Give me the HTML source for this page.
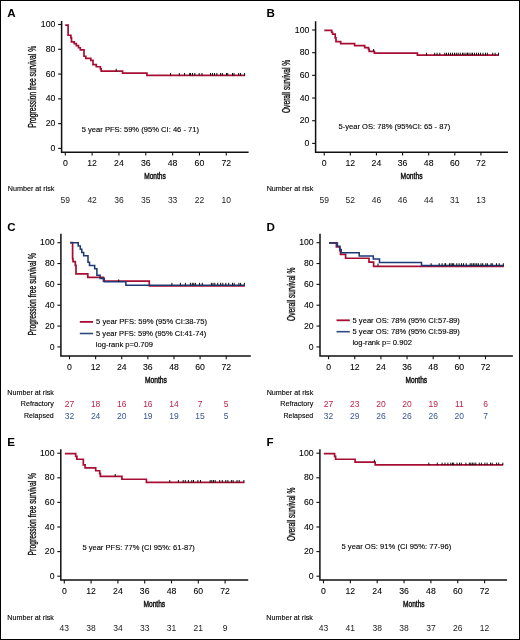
<!DOCTYPE html>
<html><head><meta charset="utf-8"><style>
html,body{margin:0;padding:0;background:#fff;}
body{width:520px;height:640px;overflow:hidden;}
svg{display:block;will-change:transform;}
text{font-family:"Liberation Sans",sans-serif;}
.lab{font-size:11.6px;font-weight:bold;fill:#000;}
.tl{font-size:8.7px;fill:#000;stroke:#000;stroke-width:0.08px;}
.tx{font-size:7.6px;fill:#000;stroke:#000;stroke-width:0.12px;}
.tt{font-size:10px;fill:#111;stroke:#111;stroke-width:0.35px;}
.mo{font-size:9.6px;stroke-width:0.5px;}
.ax{stroke:#111;stroke-width:1.5;fill:none;}
.tk{stroke:#111;stroke-width:1.1;fill:none;}
</style></head><body>
<svg width="520" height="640" viewBox="0 0 520 640">
<rect x="0.5" y="0.5" width="519" height="639" fill="#fff" stroke="#000" stroke-width="1"/>
<text x="7.2" y="17" class="lab">A</text>
<path d="M61.6 21.1V152.3H248.6" class="ax"/>
<path d="M58.1 24.5H61.6" class="tk"/>
<text x="55.3" y="27.1" class="tl" text-anchor="end">100</text>
<path d="M58.1 49.28H61.6" class="tk"/>
<text x="55.3" y="51.88" class="tl" text-anchor="end">80</text>
<path d="M58.1 74.06H61.6" class="tk"/>
<text x="55.3" y="76.66" class="tl" text-anchor="end">60</text>
<path d="M58.1 98.84H61.6" class="tk"/>
<text x="55.3" y="101.44" class="tl" text-anchor="end">40</text>
<path d="M58.1 123.62H61.6" class="tk"/>
<text x="55.3" y="126.22" class="tl" text-anchor="end">20</text>
<path d="M58.1 148.4H61.6" class="tk"/>
<text x="55.3" y="151" class="tl" text-anchor="end">0</text>
<path d="M65.3 152.3V155.6" class="tk"/>
<text x="65.3" y="166" class="tl" text-anchor="middle">0</text>
<path d="M92.13 152.3V155.6" class="tk"/>
<text x="92.13" y="166" class="tl" text-anchor="middle">12</text>
<path d="M118.96 152.3V155.6" class="tk"/>
<text x="118.96" y="166" class="tl" text-anchor="middle">24</text>
<path d="M145.79 152.3V155.6" class="tk"/>
<text x="145.79" y="166" class="tl" text-anchor="middle">36</text>
<path d="M172.62 152.3V155.6" class="tk"/>
<text x="172.62" y="166" class="tl" text-anchor="middle">48</text>
<path d="M199.45 152.3V155.6" class="tk"/>
<text x="199.45" y="166" class="tl" text-anchor="middle">60</text>
<path d="M226.28 152.3V155.6" class="tk"/>
<text x="226.28" y="166" class="tl" text-anchor="middle">72</text>
<text transform="translate(35.6 127.7) rotate(-90)" x="0" y="0" class="tt" textLength="81.9" lengthAdjust="spacingAndGlyphs">Progression free survival %</text>
<text x="144.2" y="179" class="tt mo" textLength="21.5" lengthAdjust="spacingAndGlyphs">Months</text>
<text x="7.8" y="191.07" class="tx" textLength="46.6" lengthAdjust="spacingAndGlyphs">Number at risk</text>
<text x="65.3" y="203" class="tl" text-anchor="middle" style="fill:#222;stroke:none;font-size:8.5px">59</text>
<text x="92.13" y="203" class="tl" text-anchor="middle" style="fill:#222;stroke:none;font-size:8.5px">42</text>
<text x="118.96" y="203" class="tl" text-anchor="middle" style="fill:#222;stroke:none;font-size:8.5px">36</text>
<text x="145.79" y="203" class="tl" text-anchor="middle" style="fill:#222;stroke:none;font-size:8.5px">35</text>
<text x="172.62" y="203" class="tl" text-anchor="middle" style="fill:#222;stroke:none;font-size:8.5px">33</text>
<text x="199.45" y="203" class="tl" text-anchor="middle" style="fill:#222;stroke:none;font-size:8.5px">22</text>
<text x="226.28" y="203" class="tl" text-anchor="middle" style="fill:#222;stroke:none;font-size:8.5px">10</text>
<text x="266.4" y="17" class="lab">B</text>
<path d="M315.6 21.2V152.25H507.9" class="ax"/>
<path d="M312.1 30H315.6" class="tk"/>
<text x="309.3" y="32.6" class="tl" text-anchor="end">100</text>
<path d="M312.1 52.68H315.6" class="tk"/>
<text x="309.3" y="55.28" class="tl" text-anchor="end">80</text>
<path d="M312.1 75.36H315.6" class="tk"/>
<text x="309.3" y="77.96" class="tl" text-anchor="end">60</text>
<path d="M312.1 98.04H315.6" class="tk"/>
<text x="309.3" y="100.64" class="tl" text-anchor="end">40</text>
<path d="M312.1 120.72H315.6" class="tk"/>
<text x="309.3" y="123.32" class="tl" text-anchor="end">20</text>
<path d="M312.1 143.4H315.6" class="tk"/>
<text x="309.3" y="146" class="tl" text-anchor="end">0</text>
<path d="M324.2 152.25V155.55" class="tk"/>
<text x="324.2" y="166" class="tl" text-anchor="middle">0</text>
<path d="M350.32 152.25V155.55" class="tk"/>
<text x="350.32" y="166" class="tl" text-anchor="middle">12</text>
<path d="M376.44 152.25V155.55" class="tk"/>
<text x="376.44" y="166" class="tl" text-anchor="middle">24</text>
<path d="M402.56 152.25V155.55" class="tk"/>
<text x="402.56" y="166" class="tl" text-anchor="middle">36</text>
<path d="M428.68 152.25V155.55" class="tk"/>
<text x="428.68" y="166" class="tl" text-anchor="middle">48</text>
<path d="M454.8 152.25V155.55" class="tk"/>
<text x="454.8" y="166" class="tl" text-anchor="middle">60</text>
<path d="M480.92 152.25V155.55" class="tk"/>
<text x="480.92" y="166" class="tl" text-anchor="middle">72</text>
<text transform="translate(289.8 113.1) rotate(-90)" x="0" y="0" class="tt" textLength="53.4" lengthAdjust="spacingAndGlyphs">Overall survival %</text>
<text x="400.6" y="179.3" class="tt mo" textLength="21.9" lengthAdjust="spacingAndGlyphs">Months</text>
<text x="266.7" y="191.37" class="tx" textLength="46.6" lengthAdjust="spacingAndGlyphs">Number at risk</text>
<text x="324.2" y="203" class="tl" text-anchor="middle" style="fill:#222;stroke:none;font-size:8.5px">59</text>
<text x="350.32" y="203" class="tl" text-anchor="middle" style="fill:#222;stroke:none;font-size:8.5px">52</text>
<text x="376.44" y="203" class="tl" text-anchor="middle" style="fill:#222;stroke:none;font-size:8.5px">46</text>
<text x="402.56" y="203" class="tl" text-anchor="middle" style="fill:#222;stroke:none;font-size:8.5px">46</text>
<text x="428.68" y="203" class="tl" text-anchor="middle" style="fill:#222;stroke:none;font-size:8.5px">44</text>
<text x="454.8" y="203" class="tl" text-anchor="middle" style="fill:#222;stroke:none;font-size:8.5px">31</text>
<text x="480.92" y="203" class="tl" text-anchor="middle" style="fill:#222;stroke:none;font-size:8.5px">13</text>
<text x="7.2" y="230.5" class="lab">C</text>
<path d="M60.9 233.8V356H250.8" class="ax"/>
<path d="M57.4 242.7H60.9" class="tk"/>
<text x="54.6" y="245.3" class="tl" text-anchor="end">100</text>
<path d="M57.4 263.54H60.9" class="tk"/>
<text x="54.6" y="266.14" class="tl" text-anchor="end">80</text>
<path d="M57.4 284.38H60.9" class="tk"/>
<text x="54.6" y="286.98" class="tl" text-anchor="end">60</text>
<path d="M57.4 305.22H60.9" class="tk"/>
<text x="54.6" y="307.82" class="tl" text-anchor="end">40</text>
<path d="M57.4 326.06H60.9" class="tk"/>
<text x="54.6" y="328.66" class="tl" text-anchor="end">20</text>
<path d="M57.4 346.9H60.9" class="tk"/>
<text x="54.6" y="349.5" class="tl" text-anchor="end">0</text>
<path d="M69.5 356V359.3" class="tk"/>
<text x="69.5" y="370" class="tl" text-anchor="middle">0</text>
<path d="M95.62 356V359.3" class="tk"/>
<text x="95.62" y="370" class="tl" text-anchor="middle">12</text>
<path d="M121.74 356V359.3" class="tk"/>
<text x="121.74" y="370" class="tl" text-anchor="middle">24</text>
<path d="M147.86 356V359.3" class="tk"/>
<text x="147.86" y="370" class="tl" text-anchor="middle">36</text>
<path d="M173.98 356V359.3" class="tk"/>
<text x="173.98" y="370" class="tl" text-anchor="middle">48</text>
<path d="M200.1 356V359.3" class="tk"/>
<text x="200.1" y="370" class="tl" text-anchor="middle">60</text>
<path d="M226.22 356V359.3" class="tk"/>
<text x="226.22" y="370" class="tl" text-anchor="middle">72</text>
<text transform="translate(35.5 335.4) rotate(-90)" x="0" y="0" class="tt" textLength="82.5" lengthAdjust="spacingAndGlyphs">Progression free survival %</text>
<text x="144.9" y="383" class="tt mo" textLength="21.9" lengthAdjust="spacingAndGlyphs">Months</text>
<text x="7.3" y="395.47" class="tx" textLength="46.6" lengthAdjust="spacingAndGlyphs">Number at risk</text>
<text x="53.8" y="406" class="tx" style="font-size:7.9px" text-anchor="end" textLength="33.0" lengthAdjust="spacingAndGlyphs">Refractory</text>
<text x="69.5" y="407" class="tl" text-anchor="middle" style="fill:#bb1f4a;stroke:none;font-size:8.5px">27</text>
<text x="95.62" y="407" class="tl" text-anchor="middle" style="fill:#bb1f4a;stroke:none;font-size:8.5px">18</text>
<text x="121.74" y="407" class="tl" text-anchor="middle" style="fill:#bb1f4a;stroke:none;font-size:8.5px">16</text>
<text x="147.86" y="407" class="tl" text-anchor="middle" style="fill:#bb1f4a;stroke:none;font-size:8.5px">16</text>
<text x="173.98" y="407" class="tl" text-anchor="middle" style="fill:#bb1f4a;stroke:none;font-size:8.5px">14</text>
<text x="200.1" y="407" class="tl" text-anchor="middle" style="fill:#bb1f4a;stroke:none;font-size:8.5px">7</text>
<text x="226.22" y="407" class="tl" text-anchor="middle" style="fill:#bb1f4a;stroke:none;font-size:8.5px">5</text>
<text x="53.8" y="418" class="tx" style="font-size:7.9px" text-anchor="end" textLength="29.8" lengthAdjust="spacingAndGlyphs">Relapsed</text>
<text x="69.5" y="419" class="tl" text-anchor="middle" style="fill:#375795;stroke:none;font-size:8.5px">32</text>
<text x="95.62" y="419" class="tl" text-anchor="middle" style="fill:#375795;stroke:none;font-size:8.5px">24</text>
<text x="121.74" y="419" class="tl" text-anchor="middle" style="fill:#375795;stroke:none;font-size:8.5px">20</text>
<text x="147.86" y="419" class="tl" text-anchor="middle" style="fill:#375795;stroke:none;font-size:8.5px">19</text>
<text x="173.98" y="419" class="tl" text-anchor="middle" style="fill:#375795;stroke:none;font-size:8.5px">19</text>
<text x="200.1" y="419" class="tl" text-anchor="middle" style="fill:#375795;stroke:none;font-size:8.5px">15</text>
<text x="226.22" y="419" class="tl" text-anchor="middle" style="fill:#375795;stroke:none;font-size:8.5px">5</text>
<text x="266.4" y="230.5" class="lab">D</text>
<path d="M320 233.8V356H512.9" class="ax"/>
<path d="M316.5 242.7H320" class="tk"/>
<text x="313.7" y="245.3" class="tl" text-anchor="end">100</text>
<path d="M316.5 263.54H320" class="tk"/>
<text x="313.7" y="266.14" class="tl" text-anchor="end">80</text>
<path d="M316.5 284.38H320" class="tk"/>
<text x="313.7" y="286.98" class="tl" text-anchor="end">60</text>
<path d="M316.5 305.22H320" class="tk"/>
<text x="313.7" y="307.82" class="tl" text-anchor="end">40</text>
<path d="M316.5 326.06H320" class="tk"/>
<text x="313.7" y="328.66" class="tl" text-anchor="end">20</text>
<path d="M316.5 346.9H320" class="tk"/>
<text x="313.7" y="349.5" class="tl" text-anchor="end">0</text>
<path d="M328.6 356V359.3" class="tk"/>
<text x="328.6" y="370" class="tl" text-anchor="middle">0</text>
<path d="M354.75 356V359.3" class="tk"/>
<text x="354.75" y="370" class="tl" text-anchor="middle">12</text>
<path d="M380.9 356V359.3" class="tk"/>
<text x="380.9" y="370" class="tl" text-anchor="middle">24</text>
<path d="M407.05 356V359.3" class="tk"/>
<text x="407.05" y="370" class="tl" text-anchor="middle">36</text>
<path d="M433.2 356V359.3" class="tk"/>
<text x="433.2" y="370" class="tl" text-anchor="middle">48</text>
<path d="M459.35 356V359.3" class="tk"/>
<text x="459.35" y="370" class="tl" text-anchor="middle">60</text>
<path d="M485.5 356V359.3" class="tk"/>
<text x="485.5" y="370" class="tl" text-anchor="middle">72</text>
<text transform="translate(294.8 321) rotate(-90)" x="0" y="0" class="tt" textLength="53.4" lengthAdjust="spacingAndGlyphs">Overall survival %</text>
<text x="405.5" y="383" class="tt mo" textLength="21.6" lengthAdjust="spacingAndGlyphs">Months</text>
<text x="266.7" y="395.47" class="tx" textLength="46.6" lengthAdjust="spacingAndGlyphs">Number at risk</text>
<text x="313.3" y="406" class="tx" style="font-size:7.9px" text-anchor="end" textLength="33.0" lengthAdjust="spacingAndGlyphs">Refractory</text>
<text x="328.6" y="407" class="tl" text-anchor="middle" style="fill:#bb1f4a;stroke:none;font-size:8.5px">27</text>
<text x="354.75" y="407" class="tl" text-anchor="middle" style="fill:#bb1f4a;stroke:none;font-size:8.5px">23</text>
<text x="380.9" y="407" class="tl" text-anchor="middle" style="fill:#bb1f4a;stroke:none;font-size:8.5px">20</text>
<text x="407.05" y="407" class="tl" text-anchor="middle" style="fill:#bb1f4a;stroke:none;font-size:8.5px">20</text>
<text x="433.2" y="407" class="tl" text-anchor="middle" style="fill:#bb1f4a;stroke:none;font-size:8.5px">19</text>
<text x="459.35" y="407" class="tl" text-anchor="middle" style="fill:#bb1f4a;stroke:none;font-size:8.5px">11</text>
<text x="485.5" y="407" class="tl" text-anchor="middle" style="fill:#bb1f4a;stroke:none;font-size:8.5px">6</text>
<text x="313.3" y="418" class="tx" style="font-size:7.9px" text-anchor="end" textLength="29.8" lengthAdjust="spacingAndGlyphs">Relapsed</text>
<text x="328.6" y="419" class="tl" text-anchor="middle" style="fill:#375795;stroke:none;font-size:8.5px">32</text>
<text x="354.75" y="419" class="tl" text-anchor="middle" style="fill:#375795;stroke:none;font-size:8.5px">29</text>
<text x="380.9" y="419" class="tl" text-anchor="middle" style="fill:#375795;stroke:none;font-size:8.5px">26</text>
<text x="407.05" y="419" class="tl" text-anchor="middle" style="fill:#375795;stroke:none;font-size:8.5px">26</text>
<text x="433.2" y="419" class="tl" text-anchor="middle" style="fill:#375795;stroke:none;font-size:8.5px">26</text>
<text x="459.35" y="419" class="tl" text-anchor="middle" style="fill:#375795;stroke:none;font-size:8.5px">20</text>
<text x="485.5" y="419" class="tl" text-anchor="middle" style="fill:#375795;stroke:none;font-size:8.5px">7</text>
<text x="7.2" y="445.6" class="lab">E</text>
<path d="M60.8 449.3V580.1H248.2" class="ax"/>
<path d="M57.3 453.2H60.8" class="tk"/>
<text x="54.5" y="455.8" class="tl" text-anchor="end">100</text>
<path d="M57.3 477.8H60.8" class="tk"/>
<text x="54.5" y="480.4" class="tl" text-anchor="end">80</text>
<path d="M57.3 502.4H60.8" class="tk"/>
<text x="54.5" y="505" class="tl" text-anchor="end">60</text>
<path d="M57.3 527H60.8" class="tk"/>
<text x="54.5" y="529.6" class="tl" text-anchor="end">40</text>
<path d="M57.3 551.6H60.8" class="tk"/>
<text x="54.5" y="554.2" class="tl" text-anchor="end">20</text>
<path d="M57.3 576.2H60.8" class="tk"/>
<text x="54.5" y="578.8" class="tl" text-anchor="end">0</text>
<path d="M64.3 580.1V583.4" class="tk"/>
<text x="64.3" y="594" class="tl" text-anchor="middle">0</text>
<path d="M91.1 580.1V583.4" class="tk"/>
<text x="91.1" y="594" class="tl" text-anchor="middle">12</text>
<path d="M117.9 580.1V583.4" class="tk"/>
<text x="117.9" y="594" class="tl" text-anchor="middle">24</text>
<path d="M144.7 580.1V583.4" class="tk"/>
<text x="144.7" y="594" class="tl" text-anchor="middle">36</text>
<path d="M171.5 580.1V583.4" class="tk"/>
<text x="171.5" y="594" class="tl" text-anchor="middle">48</text>
<path d="M198.3 580.1V583.4" class="tk"/>
<text x="198.3" y="594" class="tl" text-anchor="middle">60</text>
<path d="M225.1 580.1V583.4" class="tk"/>
<text x="225.1" y="594" class="tl" text-anchor="middle">72</text>
<text transform="translate(35.5 555.4) rotate(-90)" x="0" y="0" class="tt" textLength="82.5" lengthAdjust="spacingAndGlyphs">Progression free survival %</text>
<text x="143.4" y="607.3" class="tt mo" textLength="21.8" lengthAdjust="spacingAndGlyphs">Months</text>
<text x="7.3" y="619.67" class="tx" textLength="46.6" lengthAdjust="spacingAndGlyphs">Number at risk</text>
<text x="64.3" y="631" class="tl" text-anchor="middle" style="fill:#222;stroke:none;font-size:8.5px">43</text>
<text x="91.1" y="631" class="tl" text-anchor="middle" style="fill:#222;stroke:none;font-size:8.5px">38</text>
<text x="117.9" y="631" class="tl" text-anchor="middle" style="fill:#222;stroke:none;font-size:8.5px">34</text>
<text x="144.7" y="631" class="tl" text-anchor="middle" style="fill:#222;stroke:none;font-size:8.5px">33</text>
<text x="171.5" y="631" class="tl" text-anchor="middle" style="fill:#222;stroke:none;font-size:8.5px">31</text>
<text x="198.3" y="631" class="tl" text-anchor="middle" style="fill:#222;stroke:none;font-size:8.5px">21</text>
<text x="225.1" y="631" class="tl" text-anchor="middle" style="fill:#222;stroke:none;font-size:8.5px">9</text>
<text x="266.4" y="445.6" class="lab">F</text>
<path d="M319.9 449.3V580H507.1" class="ax"/>
<path d="M316.4 453.2H319.9" class="tk"/>
<text x="313.6" y="455.8" class="tl" text-anchor="end">100</text>
<path d="M316.4 477.8H319.9" class="tk"/>
<text x="313.6" y="480.4" class="tl" text-anchor="end">80</text>
<path d="M316.4 502.4H319.9" class="tk"/>
<text x="313.6" y="505" class="tl" text-anchor="end">60</text>
<path d="M316.4 527H319.9" class="tk"/>
<text x="313.6" y="529.6" class="tl" text-anchor="end">40</text>
<path d="M316.4 551.6H319.9" class="tk"/>
<text x="313.6" y="554.2" class="tl" text-anchor="end">20</text>
<path d="M316.4 576.2H319.9" class="tk"/>
<text x="313.6" y="578.8" class="tl" text-anchor="end">0</text>
<path d="M323.5 580V583.3" class="tk"/>
<text x="323.5" y="594" class="tl" text-anchor="middle">0</text>
<path d="M350.35 580V583.3" class="tk"/>
<text x="350.35" y="594" class="tl" text-anchor="middle">12</text>
<path d="M377.2 580V583.3" class="tk"/>
<text x="377.2" y="594" class="tl" text-anchor="middle">24</text>
<path d="M404.05 580V583.3" class="tk"/>
<text x="404.05" y="594" class="tl" text-anchor="middle">36</text>
<path d="M430.9 580V583.3" class="tk"/>
<text x="430.9" y="594" class="tl" text-anchor="middle">48</text>
<path d="M457.75 580V583.3" class="tk"/>
<text x="457.75" y="594" class="tl" text-anchor="middle">60</text>
<path d="M484.6 580V583.3" class="tk"/>
<text x="484.6" y="594" class="tl" text-anchor="middle">72</text>
<text transform="translate(294.8 541) rotate(-90)" x="0" y="0" class="tt" textLength="53.4" lengthAdjust="spacingAndGlyphs">Overall survival %</text>
<text x="403.1" y="607.3" class="tt mo" textLength="21.5" lengthAdjust="spacingAndGlyphs">Months</text>
<text x="266.3" y="619.67" class="tx" textLength="46.6" lengthAdjust="spacingAndGlyphs">Number at risk</text>
<text x="323.5" y="631" class="tl" text-anchor="middle" style="fill:#222;stroke:none;font-size:8.5px">43</text>
<text x="350.35" y="631" class="tl" text-anchor="middle" style="fill:#222;stroke:none;font-size:8.5px">41</text>
<text x="377.2" y="631" class="tl" text-anchor="middle" style="fill:#222;stroke:none;font-size:8.5px">38</text>
<text x="404.05" y="631" class="tl" text-anchor="middle" style="fill:#222;stroke:none;font-size:8.5px">38</text>
<text x="430.9" y="631" class="tl" text-anchor="middle" style="fill:#222;stroke:none;font-size:8.5px">37</text>
<text x="457.75" y="631" class="tl" text-anchor="middle" style="fill:#222;stroke:none;font-size:8.5px">26</text>
<text x="484.6" y="631" class="tl" text-anchor="middle" style="fill:#222;stroke:none;font-size:8.5px">12</text>
<text x="81.7" y="131.8" class="tx" textLength="117.4" lengthAdjust="spacingAndGlyphs">5 year PFS: 59% (95% CI: 46 - 71)</text>
<text x="338.5" y="128.8" class="tx" textLength="111.7" lengthAdjust="spacingAndGlyphs">5-year OS: 78% (95%CI: 65 - 87)</text>
<text x="96.1" y="324.1" class="tx" textLength="110.9" lengthAdjust="spacingAndGlyphs">5 year PFS: 59% (95% CI:38-75)</text>
<path d="M79.8 321.9H93.1" stroke="#a80d34" stroke-width="1.8" fill="none"/>
<text x="96.1" y="335.6" class="tx" textLength="110.1" lengthAdjust="spacingAndGlyphs">5 year PFS: 59% (95% CI:41-74)</text>
<path d="M79.8 333.5H93.1" stroke="#2f4a80" stroke-width="1.6" fill="none"/>
<text x="95.8" y="347.4" class="tx" textLength="57.2" lengthAdjust="spacingAndGlyphs">log-rank p=0.709</text>
<text x="352.5" y="322.6" class="tx" textLength="107.4" lengthAdjust="spacingAndGlyphs">5 year OS: 78% (95% CI:57-89)</text>
<path d="M336.5 320.3H349.8" stroke="#a80d34" stroke-width="1.8" fill="none"/>
<text x="352.5" y="333.9" class="tx" textLength="107.4" lengthAdjust="spacingAndGlyphs">5 year OS: 78% (95% CI:59-89)</text>
<path d="M336.5 331.7H349.8" stroke="#2f4a80" stroke-width="1.6" fill="none"/>
<text x="352.4" y="345.3" class="tx" textLength="59.5" lengthAdjust="spacingAndGlyphs">log-rank p= 0.902</text>
<text x="82.4" y="549.8" class="tx" textLength="112.5" lengthAdjust="spacingAndGlyphs">5 year PFS: 77% (CI 95%: 61-87)</text>
<text x="341.5" y="549.4" class="tx" textLength="109.7" lengthAdjust="spacingAndGlyphs">5 year OS: 91% (CI 95%: 77-96)</text>
<path d="M65.2 25.05 68.1 25.05 68.1 35.25 70.9 35.25 70.9 37.85 71.5 37.85 71.5 41.85 74.2 41.85 74.2 43.65 76.3 43.65 76.3 45.65 78.5 45.65 78.5 47.75 80.3 47.75 80.3 49.95 84 49.95 84 56.25 85.8 56.25 85.8 58.45 90.8 58.45 90.8 60.45 93 60.45 93 64.55 96.3 64.55 96.3 66.75 100.4 66.75 100.4 68.95 101.2 68.95 101.2 71.05 122.6 71.05 122.6 73.15 146.9 73.15 146.9 75.35 245 75.35" stroke="#a80d34" stroke-width="1.7" fill="none" stroke-linejoin="miter"/>
<path d="M324.3 30.45 331.7 30.45 331.7 32.25 332.6 32.25 332.6 34.05 335.2 34.05 335.2 37.85 336 37.85 336 41.55 340.7 41.55 340.7 43.65 354.6 43.65 354.6 45.55 364.7 45.55 364.7 47.55 368.5 47.55 368.5 49.45 369.2 49.45 369.2 51.35 374.4 51.35 374.4 53.15 417.4 53.15 417.4 55.05 498.9 55.05" stroke="#a80d34" stroke-width="1.7" fill="none" stroke-linejoin="miter"/>
<path d="M70.2 242.65 72.6 242.65 72.6 258.65 73 258.65 73 261.55 75.3 261.55 75.3 265.45 76 265.45 76 273.85 87.8 273.85 87.8 277.45 103.5 277.45 103.5 281.05 149.3 281.05 149.3 285.85 244.8 285.85" stroke="#a80d34" stroke-width="1.7" fill="none" stroke-linejoin="miter"/>
<path d="M70.2 242.65 78.2 242.65 78.2 245.95 80.3 245.95 80.3 249.15 81.8 249.15 81.8 252.45 83.7 252.45 83.7 255.65 88 255.65 88 262.25 89.5 262.25 89.5 265.45 94.7 265.45 94.7 268.75 96.9 268.75 96.9 275.25 100.1 275.25 100.1 278.55 104.3 278.55 104.3 281.75 125.9 281.75 125.9 285.15 244.8 285.15" stroke="#1d3a77" stroke-width="1.55" fill="none" stroke-linejoin="miter"/>
<path d="M329.1 242.95 336.4 242.95 336.4 246.85 339.8 246.85 339.8 250.65 340.5 250.65 340.5 254.45 345.6 254.45 345.6 258.25 369 258.25 369 262.15 373.6 262.15 373.6 266.45 503.9 266.45" stroke="#a80d34" stroke-width="1.7" fill="none" stroke-linejoin="miter"/>
<path d="M329.1 242.95 337.4 242.95 337.4 246.15 339.8 246.15 339.8 249.45 341.2 249.45 341.2 252.65 359.2 252.65 359.2 255.95 373.3 255.95 373.3 259.05 379.5 259.05 379.5 262.45 421.5 262.45 421.5 265.55 503.9 265.55" stroke="#1d3a77" stroke-width="1.55" fill="none" stroke-linejoin="miter"/>
<path d="M64.9 453.55 75.7 453.55 75.7 456.45 76.9 456.45 76.9 459.25 83.3 459.25 83.3 464.95 85.1 464.95 85.1 467.85 95.7 467.85 95.7 470.75 99.7 470.75 99.7 473.55 100.4 473.55 100.4 476.35 121.9 476.35 121.9 479.25 146.4 479.25 146.4 482.35 244.4 482.35" stroke="#a80d34" stroke-width="1.7" fill="none" stroke-linejoin="miter"/>
<path d="M323.8 453.55 334.6 453.55 334.6 456.45 335.6 456.45 335.6 459.25 355.1 459.25 355.1 462.05 375.2 462.05 375.2 464.95 503.1 464.95" stroke="#a80d34" stroke-width="1.7" fill="none" stroke-linejoin="miter"/>
<path d="M116.2 68.7V71.2" stroke="#111" stroke-width="1"/>
<path d="M170.6 73V75.5" stroke="#111" stroke-width="1"/>
<path d="M179.3 73V75.5" stroke="#111" stroke-width="1"/>
<path d="M184.5 73V75.5" stroke="#111" stroke-width="1"/>
<path d="M189.7 73V75.5" stroke="#111" stroke-width="1"/>
<path d="M190.5 73V75.5" stroke="#111" stroke-width="1"/>
<path d="M192.5 73V75.5" stroke="#111" stroke-width="1"/>
<path d="M194.8 73V75.5" stroke="#111" stroke-width="1"/>
<path d="M199.2 73V75.5" stroke="#111" stroke-width="1"/>
<path d="M202 73V75.5" stroke="#111" stroke-width="1"/>
<path d="M210.5 73V75.5" stroke="#111" stroke-width="1"/>
<path d="M212.5 73V75.5" stroke="#111" stroke-width="1"/>
<path d="M214.5 73V75.5" stroke="#111" stroke-width="1"/>
<path d="M216.8 73V75.5" stroke="#111" stroke-width="1"/>
<path d="M220.6 73V75.5" stroke="#111" stroke-width="1"/>
<path d="M222.3 73V75.5" stroke="#111" stroke-width="1"/>
<path d="M226.5 73V75.5" stroke="#111" stroke-width="1"/>
<path d="M227.7 73V75.5" stroke="#111" stroke-width="1"/>
<path d="M232.5 73V75.5" stroke="#111" stroke-width="1"/>
<path d="M234 73V75.5" stroke="#111" stroke-width="1"/>
<path d="M238.7 73V75.5" stroke="#111" stroke-width="1"/>
<path d="M240.5 73V75.5" stroke="#111" stroke-width="1"/>
<path d="M244.6 73V75.5" stroke="#111" stroke-width="1"/>
<path d="M373.6 49V51.5" stroke="#111" stroke-width="1"/>
<path d="M426.5 52.7V55.2" stroke="#111" stroke-width="1"/>
<path d="M434.7 52.7V55.2" stroke="#111" stroke-width="1"/>
<path d="M437.1 52.7V55.2" stroke="#111" stroke-width="1"/>
<path d="M439.8 52.7V55.2" stroke="#111" stroke-width="1"/>
<path d="M444.8 52.7V55.2" stroke="#111" stroke-width="1"/>
<path d="M446.5 52.7V55.2" stroke="#111" stroke-width="1"/>
<path d="M448.5 52.7V55.2" stroke="#111" stroke-width="1"/>
<path d="M450.5 52.7V55.2" stroke="#111" stroke-width="1"/>
<path d="M452.5 52.7V55.2" stroke="#111" stroke-width="1"/>
<path d="M454.5 52.7V55.2" stroke="#111" stroke-width="1"/>
<path d="M456.3 52.7V55.2" stroke="#111" stroke-width="1"/>
<path d="M458.2 52.7V55.2" stroke="#111" stroke-width="1"/>
<path d="M460.3 52.7V55.2" stroke="#111" stroke-width="1"/>
<path d="M462.5 52.7V55.2" stroke="#111" stroke-width="1"/>
<path d="M464 52.7V55.2" stroke="#111" stroke-width="1"/>
<path d="M466 52.7V55.2" stroke="#111" stroke-width="1"/>
<path d="M467.5 52.7V55.2" stroke="#111" stroke-width="1"/>
<path d="M469 52.7V55.2" stroke="#111" stroke-width="1"/>
<path d="M471 52.7V55.2" stroke="#111" stroke-width="1"/>
<path d="M472.5 52.7V55.2" stroke="#111" stroke-width="1"/>
<path d="M474.5 52.7V55.2" stroke="#111" stroke-width="1"/>
<path d="M476.5 52.7V55.2" stroke="#111" stroke-width="1"/>
<path d="M478.5 52.7V55.2" stroke="#111" stroke-width="1"/>
<path d="M480.5 52.7V55.2" stroke="#111" stroke-width="1"/>
<path d="M483 52.7V55.2" stroke="#111" stroke-width="1"/>
<path d="M485.5 52.7V55.2" stroke="#111" stroke-width="1"/>
<path d="M487.4 52.7V55.2" stroke="#111" stroke-width="1"/>
<path d="M492.7 52.7V55.2" stroke="#111" stroke-width="1"/>
<path d="M495.1 52.7V55.2" stroke="#111" stroke-width="1"/>
<path d="M498.5 52.7V55.2" stroke="#111" stroke-width="1"/>
<path d="M118.7 279.4V281.9" stroke="#111" stroke-width="1"/>
<path d="M171.9 282.8V285.3" stroke="#111" stroke-width="1"/>
<path d="M180.4 282.8V285.3" stroke="#111" stroke-width="1"/>
<path d="M185.4 282.8V285.3" stroke="#111" stroke-width="1"/>
<path d="M190.4 282.8V285.3" stroke="#111" stroke-width="1"/>
<path d="M192.3 282.8V285.3" stroke="#111" stroke-width="1"/>
<path d="M193.8 282.8V285.3" stroke="#111" stroke-width="1"/>
<path d="M195.4 282.8V285.3" stroke="#111" stroke-width="1"/>
<path d="M199.6 282.8V285.3" stroke="#111" stroke-width="1"/>
<path d="M202.3 282.8V285.3" stroke="#111" stroke-width="1"/>
<path d="M211.4 282.8V285.3" stroke="#111" stroke-width="1"/>
<path d="M213 282.8V285.3" stroke="#111" stroke-width="1"/>
<path d="M214.8 282.8V285.3" stroke="#111" stroke-width="1"/>
<path d="M217.7 282.8V285.3" stroke="#111" stroke-width="1"/>
<path d="M220.7 282.8V285.3" stroke="#111" stroke-width="1"/>
<path d="M222.8 282.8V285.3" stroke="#111" stroke-width="1"/>
<path d="M225.8 282.8V285.3" stroke="#111" stroke-width="1"/>
<path d="M228.7 282.8V285.3" stroke="#111" stroke-width="1"/>
<path d="M232.5 282.8V285.3" stroke="#111" stroke-width="1"/>
<path d="M234.2 282.8V285.3" stroke="#111" stroke-width="1"/>
<path d="M238.9 282.8V285.3" stroke="#111" stroke-width="1"/>
<path d="M240.6 282.8V285.3" stroke="#111" stroke-width="1"/>
<path d="M244.4 282.8V285.3" stroke="#111" stroke-width="1"/>
<path d="M378 263.5V266" stroke="#111" stroke-width="1"/>
<path d="M431.1 263.2V265.7" stroke="#111" stroke-width="1"/>
<path d="M439.2 263.2V265.7" stroke="#111" stroke-width="1"/>
<path d="M442.1 263.2V265.7" stroke="#111" stroke-width="1"/>
<path d="M445 263.2V265.7" stroke="#111" stroke-width="1"/>
<path d="M445.7 263.2V265.7" stroke="#111" stroke-width="1"/>
<path d="M449.4 263.2V265.7" stroke="#111" stroke-width="1"/>
<path d="M451 263.2V265.7" stroke="#111" stroke-width="1"/>
<path d="M452.4 263.2V265.7" stroke="#111" stroke-width="1"/>
<path d="M453.7 263.2V265.7" stroke="#111" stroke-width="1"/>
<path d="M456.8 263.2V265.7" stroke="#111" stroke-width="1"/>
<path d="M459.1 263.2V265.7" stroke="#111" stroke-width="1"/>
<path d="M461.5 263.2V265.7" stroke="#111" stroke-width="1"/>
<path d="M463.5 263.2V265.7" stroke="#111" stroke-width="1"/>
<path d="M466.2 263.2V265.7" stroke="#111" stroke-width="1"/>
<path d="M470.2 263.2V265.7" stroke="#111" stroke-width="1"/>
<path d="M471.8 263.2V265.7" stroke="#111" stroke-width="1"/>
<path d="M473.4 263.2V265.7" stroke="#111" stroke-width="1"/>
<path d="M475 263.2V265.7" stroke="#111" stroke-width="1"/>
<path d="M476.7 263.2V265.7" stroke="#111" stroke-width="1"/>
<path d="M478.3 263.2V265.7" stroke="#111" stroke-width="1"/>
<path d="M481 263.2V265.7" stroke="#111" stroke-width="1"/>
<path d="M482.7 263.2V265.7" stroke="#111" stroke-width="1"/>
<path d="M485.8 263.2V265.7" stroke="#111" stroke-width="1"/>
<path d="M487.4 263.2V265.7" stroke="#111" stroke-width="1"/>
<path d="M491.1 263.2V265.7" stroke="#111" stroke-width="1"/>
<path d="M492.2 263.2V265.7" stroke="#111" stroke-width="1"/>
<path d="M496.5 263.2V265.7" stroke="#111" stroke-width="1"/>
<path d="M499.2 263.2V265.7" stroke="#111" stroke-width="1"/>
<path d="M503.3 263.2V265.7" stroke="#111" stroke-width="1"/>
<path d="M115.2 474V476.5" stroke="#111" stroke-width="1"/>
<path d="M169.8 480V482.5" stroke="#111" stroke-width="1"/>
<path d="M178.4 480V482.5" stroke="#111" stroke-width="1"/>
<path d="M183.2 480V482.5" stroke="#111" stroke-width="1"/>
<path d="M185.3 480V482.5" stroke="#111" stroke-width="1"/>
<path d="M188.4 480V482.5" stroke="#111" stroke-width="1"/>
<path d="M191.8 480V482.5" stroke="#111" stroke-width="1"/>
<path d="M193.5 480V482.5" stroke="#111" stroke-width="1"/>
<path d="M197.9 480V482.5" stroke="#111" stroke-width="1"/>
<path d="M200.5 480V482.5" stroke="#111" stroke-width="1"/>
<path d="M210.2 480V482.5" stroke="#111" stroke-width="1"/>
<path d="M211.8 480V482.5" stroke="#111" stroke-width="1"/>
<path d="M213.5 480V482.5" stroke="#111" stroke-width="1"/>
<path d="M215.2 480V482.5" stroke="#111" stroke-width="1"/>
<path d="M219.7 480V482.5" stroke="#111" stroke-width="1"/>
<path d="M222.3 480V482.5" stroke="#111" stroke-width="1"/>
<path d="M225.8 480V482.5" stroke="#111" stroke-width="1"/>
<path d="M227.9 480V482.5" stroke="#111" stroke-width="1"/>
<path d="M231.4 480V482.5" stroke="#111" stroke-width="1"/>
<path d="M233.1 480V482.5" stroke="#111" stroke-width="1"/>
<path d="M237 480V482.5" stroke="#111" stroke-width="1"/>
<path d="M239.2 480V482.5" stroke="#111" stroke-width="1"/>
<path d="M243.9 480V482.5" stroke="#111" stroke-width="1"/>
<path d="M374.4 459.7V462.2" stroke="#111" stroke-width="1"/>
<path d="M428.8 462.6V465.1" stroke="#111" stroke-width="1"/>
<path d="M437.3 462.6V465.1" stroke="#111" stroke-width="1"/>
<path d="M442.1 462.6V465.1" stroke="#111" stroke-width="1"/>
<path d="M445 462.6V465.1" stroke="#111" stroke-width="1"/>
<path d="M447.9 462.6V465.1" stroke="#111" stroke-width="1"/>
<path d="M450.8 462.6V465.1" stroke="#111" stroke-width="1"/>
<path d="M452.5 462.6V465.1" stroke="#111" stroke-width="1"/>
<path d="M453.7 462.6V465.1" stroke="#111" stroke-width="1"/>
<path d="M457 462.6V465.1" stroke="#111" stroke-width="1"/>
<path d="M459.5 462.6V465.1" stroke="#111" stroke-width="1"/>
<path d="M461.3 462.6V465.1" stroke="#111" stroke-width="1"/>
<path d="M465.9 462.6V465.1" stroke="#111" stroke-width="1"/>
<path d="M469.3 462.6V465.1" stroke="#111" stroke-width="1"/>
<path d="M470.8 462.6V465.1" stroke="#111" stroke-width="1"/>
<path d="M472.4 462.6V465.1" stroke="#111" stroke-width="1"/>
<path d="M474 462.6V465.1" stroke="#111" stroke-width="1"/>
<path d="M475.8 462.6V465.1" stroke="#111" stroke-width="1"/>
<path d="M479.3 462.6V465.1" stroke="#111" stroke-width="1"/>
<path d="M481.4 462.6V465.1" stroke="#111" stroke-width="1"/>
<path d="M484.9 462.6V465.1" stroke="#111" stroke-width="1"/>
<path d="M487.1 462.6V465.1" stroke="#111" stroke-width="1"/>
<path d="M490.5 462.6V465.1" stroke="#111" stroke-width="1"/>
<path d="M492.2 462.6V465.1" stroke="#111" stroke-width="1"/>
<path d="M496.6 462.6V465.1" stroke="#111" stroke-width="1"/>
<path d="M498.7 462.6V465.1" stroke="#111" stroke-width="1"/>
<path d="M502.8 462.6V465.1" stroke="#111" stroke-width="1"/>
</svg>
</body></html>
